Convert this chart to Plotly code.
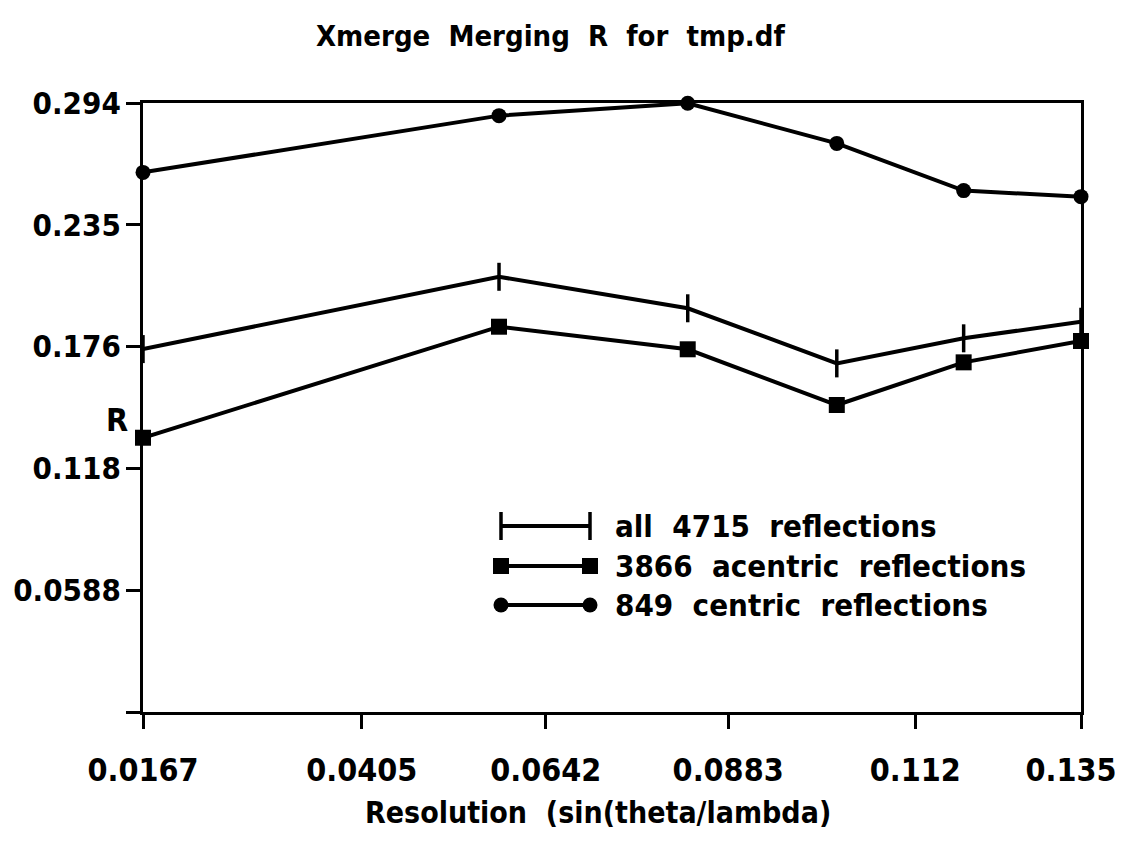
import plotly.graph_objects as go

# ---------------- data ----------------
title_text = "Xmerge  Merging  R  for  tmp.df"
x_title = "Resolution  (sin(theta/lambda)"
y_title = "R"

resolution = [0.0167, 0.0616, 0.0854, 0.1042, 0.1202, 0.135]
r_all = [0.1752, 0.2101, 0.1949, 0.1683, 0.1804, 0.1884]
r_acentric = [0.1324, 0.1860, 0.1751, 0.1482, 0.1688, 0.1791]
r_centric = [0.2605, 0.2879, 0.2939, 0.2745, 0.2517, 0.2488]

series_names = ["all  4715  reflections", "3866  acentric  reflections", "849  centric  reflections"]

x_tick_vals = [0.0167, 0.0443, 0.0675, 0.0905, 0.1141, 0.135]
x_tick_text = ["0.0167", "0.0405", "0.0642", "0.0883", "0.112", "0.135\u00a0\u00a0"]
y_tick_vals = [0.0, 0.0588, 0.1176, 0.1764, 0.2352, 0.294]
y_tick_text = ["", "0.0588", "0.118", "0.176", "0.235", "0.294"]

# ---------------- layout constants (reference pixel frame) ----------------
VIEW_W, VIEW_H = 1123, 846
OFF = 8                      # browser default body margin
L, R, T, B = 143, 1081, 103, 712
FONT = "DejaVu Sans Condensed, DejaVu Sans, sans-serif"
BLACK = "#000000"


def pxx(x):
    return (x - L) / (R - L)


def pxy(y):
    return (B - y) / (B - T)


def tfont(size):
    return dict(family=FONT, size=size, color=BLACK, weight="bold")


styles = [
    dict(symbol="line-ns", size=20, line=dict(color=BLACK, width=3.5), color=BLACK),
    dict(symbol="square", size=16, line=dict(color=BLACK, width=0), color=BLACK),
    dict(symbol="circle", size=15, line=dict(color=BLACK, width=0), color=BLACK),
]
values = [r_all, r_acentric, r_centric]

fig = go.Figure()
for name, vals, st in zip(series_names, values, styles):
    fig.add_trace(go.Scatter(
        x=resolution, y=vals, mode="lines+markers", name=name,
        line=dict(color=BLACK, width=4), marker=st, cliponaxis=False,
        showlegend=False,
    ))

# legend samples drawn on an overlay axis in reference-pixel units
legend_rows_y = [526, 566, 605]
legend_line_x = [501, 590]
for name, st, ly in zip(series_names, styles, legend_rows_y):
    fig.add_trace(go.Scatter(
        x=legend_line_x, y=[ly, ly], xaxis="x2", yaxis="y2",
        mode="lines+markers", line=dict(color=BLACK, width=4), marker=st,
        showlegend=False, cliponaxis=False, hoverinfo="skip",
    ))

annotations = []
for name, ly in zip(series_names, legend_rows_y):
    annotations.append(dict(
        x=pxx(613), y=pxy(ly), xref="paper", yref="paper", text=name,
        showarrow=False, xanchor="left", yanchor="middle", font=tfont(31),
    ))

annotations.append(dict(
    x=pxx(117), y=pxy(420), xref="paper", yref="paper", text=y_title,
    showarrow=False, xanchor="center", yanchor="middle", font=tfont(32),
))
annotations.append(dict(
    x=pxx(598), y=pxy(812), xref="paper", yref="paper", text=x_title,
    showarrow=False, xanchor="center", yanchor="middle", font=tfont(30),
))
annotations.append(dict(
    x=pxx(550), y=pxy(36), xref="paper", yref="paper", text=title_text,
    showarrow=False, xanchor="center", yanchor="middle", font=tfont(29),
))

axis_common = dict(
    showgrid=False, zeroline=False, showline=True, linecolor=BLACK,
    linewidth=3, mirror=True, ticks="outside", ticklen=14, tickwidth=3,
    tickcolor=BLACK, tickmode="array", automargin=False,
    ticklabeloverflow="allow",
)

fig.update_layout(
    width=VIEW_W - OFF, height=VIEW_H - OFF,
    margin=dict(l=L - OFF, r=VIEW_W - R, t=T - OFF, b=VIEW_H - B, pad=0),
    paper_bgcolor="white", plot_bgcolor="white",
    showlegend=False,
    font=tfont(30),
    annotations=annotations,
    xaxis=dict(
        range=[resolution[0], resolution[-1]],
        tickvals=x_tick_vals, ticktext=x_tick_text,
        tickfont=tfont(32), ticklabelstandoff=14, **axis_common,
    ),
    yaxis=dict(
        range=[0, 0.294],
        tickvals=y_tick_vals, ticktext=y_tick_text,
        tickfont=tfont(31), ticklabelstandoff=-1, **axis_common,
    ),
    xaxis2=dict(range=[L, R], overlaying="x", visible=False, fixedrange=True),
    yaxis2=dict(range=[B, T], overlaying="y", visible=False, fixedrange=True),
)

fig.write_html("out.html")
